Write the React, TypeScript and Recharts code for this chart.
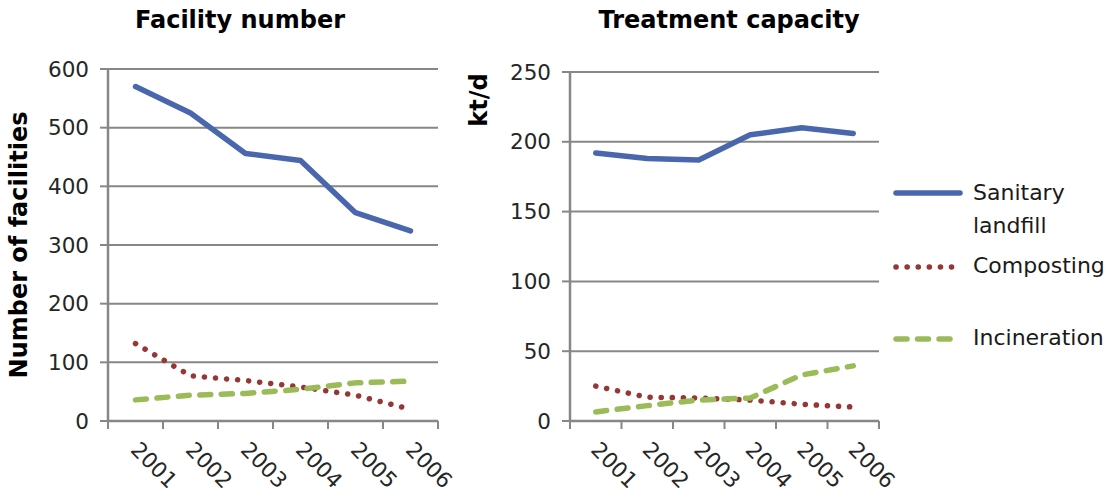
import React from 'react';
import { LineChart, Line, XAxis, YAxis, CartesianGrid } from 'recharts';

const years = [2001, 2002, 2003, 2004, 2005, 2006];

// left panel: number of facilities
const facilityLandfill = [570, 525, 456, 444, 355, 324];
const facilityComposting = [132, 77, 69, 58, 44, 20];
const facilityIncineration = [36, 44, 47, 54, 65, 68];
const facilityTicks = [0, 100, 200, 300, 400, 500, 600];

// right panel: treatment capacity (kt/d)
const capacityLandfill = [192, 188, 187, 205, 210, 206];
const capacityComposting = [25, 17, 16.5, 15, 12, 10];
const capacityIncineration = [6.5, 11, 15, 16.5, 33, 39.5];
const capacityTicks = [0, 50, 100, 150, 200, 250];

const seriesNames = ['Sanitary landfill', 'Composting', 'Incineration'];

const BLUE = '#4A67AD';
const RED = '#953735';
const GREEN = '#9BBB59';
const GRID = '#878787';
const TEXT = '#262626';
const FONT = '"DejaVu Sans", Arial, sans-serif';

const series = [
    { key: 'landfill', name: seriesNames[0], color: BLUE, dash: undefined, cap: 'round' as const },
    { key: 'composting', name: seriesNames[1], color: RED, dash: '0.1 11', cap: 'round' as const },
    { key: 'incineration', name: seriesNames[2], color: GREEN, dash: '11 10.5', cap: 'round' as const },
];

const facilityData = years.map((year, i) => ({
    year,
    landfill: facilityLandfill[i],
    composting: facilityComposting[i],
    incineration: facilityIncineration[i],
}));

const capacityData = years.map((year, i) => ({
    year,
    landfill: capacityLandfill[i],
    composting: capacityComposting[i],
    incineration: capacityIncineration[i],
}));

// eslint-disable-next-line @typescript-eslint/no-explicit-any
const YearTick = ({ x, y, payload, index, half }: any) => {
    const tx = x - 6;
    const ty = y + 30;
    return (
        <g>
            <line x1={x - half} x2={x - half} y1={y} y2={y + 8} stroke={GRID} strokeWidth={2} />
            {index === years.length - 1 && (
                <line x1={x + half} x2={x + half} y1={y} y2={y + 8} stroke={GRID} strokeWidth={2} />
            )}
            <text
                x={tx}
                y={ty}
                transform={`rotate(45 ${tx} ${ty})`}
                fill={TEXT}
                fontSize={21.5}
                fontFamily={FONT}
                textAnchor="start"
            >
                {payload.value}
            </text>
        </g>
    );
};

interface PanelProps {
    // eslint-disable-next-line @typescript-eslint/no-explicit-any
    data: any[];
    width: number;
    top: number;
    right: number;
    yWidth: number;
    ticks: number[];
}

function Panel({ data, width, top, right, yWidth, ticks }: PanelProps) {
    const plotW = width - right - yWidth;
    const half = plotW / years.length / 2;
    return (
        <LineChart width={width} height={495} data={data} margin={{ top, right, bottom: 0, left: 0 }}>
            <CartesianGrid horizontal vertical={false} stroke={GRID} strokeWidth={2} />
            <XAxis
                dataKey="year"
                type="number"
                domain={[years[0] - 0.5, years[years.length - 1] + 0.5]}
                ticks={years}
                interval={0}
                height={495 - 421}
                tickSize={0}
                tickMargin={0}
                axisLine={{ stroke: GRID, strokeWidth: 2.5 }}
                // eslint-disable-next-line @typescript-eslint/no-explicit-any
                tick={(p: any) => <YearTick {...p} half={half} />}
            />
            <YAxis
                type="number"
                width={yWidth}
                domain={[ticks[0], ticks[ticks.length - 1]]}
                ticks={ticks}
                interval={0}
                tickSize={8}
                tickMargin={11}
                axisLine={{ stroke: GRID, strokeWidth: 2.5 }}
                tickLine={{ stroke: GRID, strokeWidth: 2 }}
                tick={{ fill: TEXT, fontSize: 21.5, fontFamily: FONT }}
            />
            {series.map((s) => (
                <Line
                    key={s.key}
                    dataKey={s.key}
                    name={s.name}
                    stroke={s.color}
                    strokeWidth={5.5}
                    strokeDasharray={s.dash}
                    strokeLinecap={s.cap}
                    strokeLinejoin="round"
                    dot={false}
                    activeDot={false}
                    isAnimationActive={false}
                />
            ))}
        </LineChart>
    );
}

const legendLineY = [193, 267, 339];
const legendBaseY = [200, 273, 345];

export default function App() {
    return (
        <div style={{ position: 'absolute', left: 0, top: 0, width: 1110, height: 495, background: '#fff' }}>
            <div style={{ position: 'absolute', left: 0, top: 0 }}>
                <Panel data={facilityData} width={460} top={69} right={22} yWidth={108} ticks={facilityTicks} />
            </div>
            <div style={{ position: 'absolute', left: 460, top: 0 }}>
                <Panel data={capacityData} width={650} top={72} right={231} yWidth={110} ticks={capacityTicks} />
            </div>
            <svg
                width={1110}
                height={495}
                style={{ position: 'absolute', left: 0, top: 0, pointerEvents: 'none' }}
                fontFamily={FONT}
            >
                <text x={240} y={28} textAnchor="middle" fontSize={24} fontWeight="bold" fill="#000">
                    Facility number
                </text>
                <text x={729} y={28} textAnchor="middle" fontSize={24} fontWeight="bold" fill="#000">
                    Treatment capacity
                </text>
                <text
                    x={27}
                    y={245}
                    transform="rotate(-90 27 245)"
                    textAnchor="middle"
                    fontSize={24}
                    fontWeight="bold"
                    fill="#000"
                >
                    Number of facilities
                </text>
                <text
                    x={487}
                    y={100}
                    transform="rotate(-90 487 100)"
                    textAnchor="middle"
                    fontSize={24}
                    fontWeight="bold"
                    fill="#000"
                >
                    kt/d
                </text>
                {/* legend */}
                {series.map((s, i) => (
                    <g key={s.key}>
                        <line
                            x1={896}
                            x2={960}
                            y1={legendLineY[i]}
                            y2={legendLineY[i]}
                            stroke={s.color}
                            strokeWidth={5.5}
                            strokeDasharray={s.dash}
                            strokeLinecap={s.cap}
                        />
                        {i === 0 ? (
                            <text y={legendBaseY[i]} fontSize={22} fill="#1a1a1a">
                                <tspan x={973}>Sanitary</tspan>
                                <tspan x={973} dy={33}>landfill</tspan>
                            </text>
                        ) : (
                            <text x={973} y={legendBaseY[i]} fontSize={22} fill="#1a1a1a">
                                {s.name}
                            </text>
                        )}
                    </g>
                ))}
            </svg>
        </div>
    );
}
